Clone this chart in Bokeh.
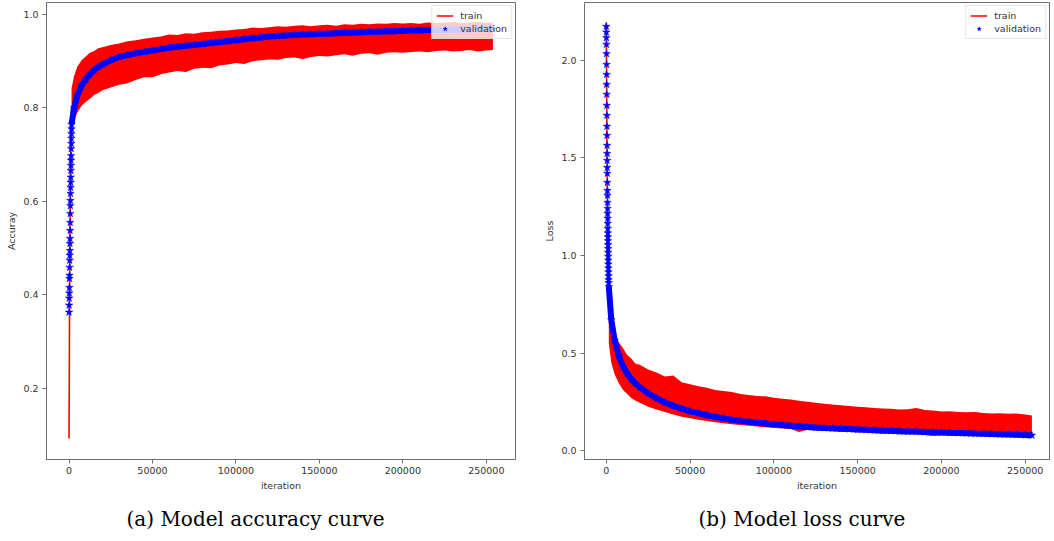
from bokeh.plotting import figure
from bokeh.models import Range1d, Legend, LegendItem, Title, FixedTicker, PrintfTickFormatter
from bokeh.layouts import row
from bokeh.embed import file_html
from bokeh.resources import INLINE

# ---------------- data ----------------
x_ticks = [0, 50000, 100000, 150000, 200000, 250000]
acc_y_ticks = [0.2, 0.4, 0.6, 0.8, 1.0]
loss_y_ticks = [0.0, 0.5, 1.0, 1.5, 2.0]

# iteration grid of the read-off points
iters = [1500, 3000, 5000, 7500, 10000, 12500, 15000, 17500, 20000] + list(range(25000, 255000, 5000)) + [254000]

# ---- accuracy ----
acc_head_iter = [0, 300, 700, 1200, 1500]
acc_head = [0.093, 0.36, 0.60, 0.76, 0.80]

acc_upper = [0.842, 0.868, 0.889, 0.902, 0.910, 0.918, 0.922, 0.928, 0.930,
             0.935, 0.938, 0.943, 0.945, 0.948, 0.951, 0.953, 0.957, 0.956, 0.960,
             0.959, 0.962, 0.963, 0.965, 0.966, 0.968, 0.969, 0.972, 0.971, 0.973,
             0.975, 0.974, 0.976, 0.977, 0.975, 0.977, 0.978, 0.976, 0.979, 0.978,
             0.980, 0.979, 0.981, 0.980, 0.982, 0.981, 0.982, 0.980, 0.983, 0.982,
             0.983, 0.984, 0.982, 0.983, 0.984, 0.982,
             0.983]
acc_lower = [0.745, 0.775, 0.790, 0.805, 0.813, 0.820, 0.828, 0.832, 0.838,
             0.844, 0.850, 0.853, 0.860, 0.866, 0.866, 0.872, 0.876, 0.879, 0.877,
             0.884, 0.886, 0.885, 0.891, 0.893, 0.896, 0.894, 0.900, 0.902, 0.904,
             0.903, 0.907, 0.908, 0.905, 0.909, 0.911, 0.910, 0.913, 0.915, 0.912,
             0.916, 0.917, 0.914, 0.918, 0.919, 0.918, 0.920, 0.921, 0.919, 0.922,
             0.923, 0.921, 0.922, 0.924, 0.921, 0.923,
             0.924]
acc_val_early_iter = list(range(0, 1550, 50))
acc_val_early = [0.363, 0.378, 0.393, 0.404, 0.416, 0.435, 0.442, 0.459, 0.474, 0.485,
                 0.495, 0.510, 0.521, 0.538, 0.555, 0.574, 0.591, 0.602, 0.617, 0.630,
                 0.641, 0.652, 0.666, 0.677, 0.688, 0.698, 0.713, 0.724, 0.735, 0.745,
                 0.755]
acc_val = [0.765, 0.800, 0.827, 0.848, 0.861, 0.872, 0.881, 0.888, 0.893,
           0.902, 0.909, 0.913, 0.917, 0.920, 0.923, 0.926, 0.929, 0.931, 0.933,
           0.935, 0.937, 0.939, 0.941, 0.943, 0.945, 0.947, 0.949, 0.951, 0.953,
           0.954, 0.955, 0.956, 0.957, 0.958, 0.959, 0.959, 0.960, 0.961, 0.961,
           0.962, 0.963, 0.963, 0.964, 0.964, 0.965, 0.966, 0.966, 0.967, 0.967,
           0.967, 0.968, 0.968, 0.968, 0.969, 0.969,
           0.969]

# ---- loss ----
loss_head_iter = [0, 200, 500, 900, 1500]
loss_head = [2.195, 1.90, 1.45, 1.05, 0.68]

loss_upper = [0.80, 0.66, 0.60, 0.555, 0.525, 0.49, 0.47, 0.445, 0.44,
              0.415, 0.40, 0.38, 0.385, 0.35, 0.34, 0.33, 0.322, 0.31, 0.305,
              0.30, 0.29, 0.285, 0.28, 0.278, 0.27, 0.265, 0.262, 0.255, 0.25,
              0.245, 0.24, 0.236, 0.232, 0.228, 0.225, 0.222, 0.218, 0.215, 0.214,
              0.21, 0.212, 0.218, 0.208, 0.205, 0.20, 0.202, 0.198, 0.196, 0.197,
              0.193, 0.19, 0.191, 0.188, 0.19, 0.185,
              0.18]
loss_lower = [0.55, 0.45, 0.39, 0.345, 0.31, 0.29, 0.268, 0.255, 0.245,
              0.225, 0.21, 0.197, 0.185, 0.173, 0.166, 0.158, 0.151, 0.145, 0.14,
              0.135, 0.131, 0.127, 0.123, 0.119, 0.116, 0.113, 0.110, 0.095, 0.106,
              0.103, 0.101, 0.099, 0.097, 0.095, 0.094, 0.092, 0.09, 0.088, 0.087,
              0.085, 0.083, 0.082, 0.08, 0.075, 0.078, 0.077, 0.076, 0.075, 0.074,
              0.073, 0.072, 0.071, 0.070, 0.069, 0.068,
              0.067]
loss_val_early_iter = list(range(0, 1401, 35))
loss_val_early = [2.174, 2.145, 2.116, 2.082, 2.034, 1.979, 1.928, 1.877, 1.826, 1.769,
                  1.718, 1.662, 1.615, 1.564, 1.523, 1.487, 1.451, 1.421, 1.374, 1.333,
                  1.308, 1.272, 1.241, 1.215, 1.190, 1.164, 1.138, 1.115, 1.095, 1.075,
                  1.055, 1.035, 1.015, 0.995, 0.975, 0.955, 0.935, 0.915, 0.895, 0.875,
                  0.86]
loss_val = [0.84, 0.67, 0.565, 0.485, 0.43, 0.395, 0.365, 0.343, 0.324,
            0.293, 0.268, 0.246, 0.229, 0.215, 0.201, 0.192, 0.181, 0.173, 0.165,
            0.158, 0.152, 0.147, 0.143, 0.139, 0.135, 0.131, 0.127, 0.124, 0.121,
            0.118, 0.116, 0.114, 0.112, 0.110, 0.108, 0.106, 0.104, 0.102, 0.101,
            0.099, 0.098, 0.097, 0.095, 0.094, 0.093, 0.091, 0.090, 0.089, 0.087,
            0.086, 0.085, 0.083, 0.082, 0.081, 0.079,
            0.078]

RED = "#ff0000"
BLUE = "#0000ff"
TXT = "#333333"
AXC = "#6f6f6f"


def make_panel(title, ylabel, xr, yr, yticks, head_x, head_y, upper, lower,
               val_early_x, val_early, val, caption_offset, border_left, border_right, fw):
    p = figure(frame_width=fw, frame_height=457, x_range=xr, y_range=yr,
               output_backend="svg", toolbar_location=None,
               min_border_left=border_left, min_border_right=border_right,
               min_border_top=2, min_border_bottom=0)
    p.background_fill_color = "white"
    p.border_fill_color = "white"
    p.grid.visible = False
    p.outline_line_color = AXC
    p.outline_line_width = 1

    for ax in (p.xaxis[0], p.yaxis[0]):
        ax.axis_line_color = AXC
        ax.major_tick_line_color = AXC
        ax.major_tick_out = 4
        ax.major_tick_in = 0
        ax.minor_tick_line_color = None
        ax.major_label_text_font = "DejaVu Sans"
        ax.major_label_text_font_size = "9.5px"
        ax.major_label_text_color = TXT
        ax.axis_label_text_font = "DejaVu Sans"
        ax.axis_label_text_font_size = "9.5px"
        ax.axis_label_text_font_style = "normal"
        ax.axis_label_text_color = TXT
    p.xaxis.ticker = FixedTicker(ticks=x_ticks)
    p.xaxis.formatter = PrintfTickFormatter(format="%d")
    p.xaxis.major_label_standoff = 3
    p.xaxis.axis_label = "iteration"
    p.xaxis.axis_label_standoff = 3
    p.yaxis.ticker = FixedTicker(ticks=yticks)
    p.yaxis.formatter = PrintfTickFormatter(format="%.1f")
    p.yaxis.major_label_standoff = 4
    p.yaxis.axis_label = ylabel
    p.yaxis.axis_label_standoff = 3

    # train: band of the noisy curve + its first iterations
    p.varea(x=iters, y1=lower, y2=upper, fill_color=RED, fill_alpha=1.0)
    train_line = p.line(head_x, head_y, line_color=RED, line_width=1.6)
    # validation
    p.line(iters, val, line_color=BLUE, line_width=6)
    vx = val_early_x + iters
    vy = val_early + val
    val_pts = p.scatter(vx, vy, marker="star", size=8, fill_color=BLUE,
                        line_color=BLUE, line_width=0.5)

    legend = Legend(items=[LegendItem(label="train", renderers=[train_line]),
                           LegendItem(label="validation", renderers=[val_pts])],
                    location="top_right", orientation="vertical",
                    label_text_font="DejaVu Sans", label_text_font_size="9.5px",
                    label_text_color=TXT, label_standoff=7,
                    glyph_width=17, glyph_height=11, label_height=11,
                    spacing=2, padding=4, margin=3,
                    border_line_color="#cccccc", border_line_width=1,
                    background_fill_color="white", background_fill_alpha=0.8)
    p.add_layout(legend)

    p.add_layout(Title(text=title, align="left", offset=caption_offset,
                       text_font="DejaVu Serif", text_font_size="20px",
                       text_font_style="normal", text_color="#000000",
                       standoff=22), "below")
    return p


p1 = make_panel("(a) Model accuracy curve", "Accuray",
                Range1d(-13500, 267500), Range1d(0.048, 1.0257), acc_y_ticks,
                acc_head_iter, acc_head, acc_upper, acc_lower,
                acc_val_early_iter, acc_val_early, acc_val,
                80, 46, 15, 469)
p2 = make_panel("(b) Model loss curve", "Loss",
                Range1d(-13000, 264500), Range1d(-0.046, 2.297), loss_y_ticks,
                loss_head_iter, loss_head, loss_upper, loss_lower,
                loss_val_early_iter, loss_val_early, loss_val,
                114, 54, 3, 465)

layout = row(p1, p2)
open("out.html", "w").write(file_html(layout, INLINE))
